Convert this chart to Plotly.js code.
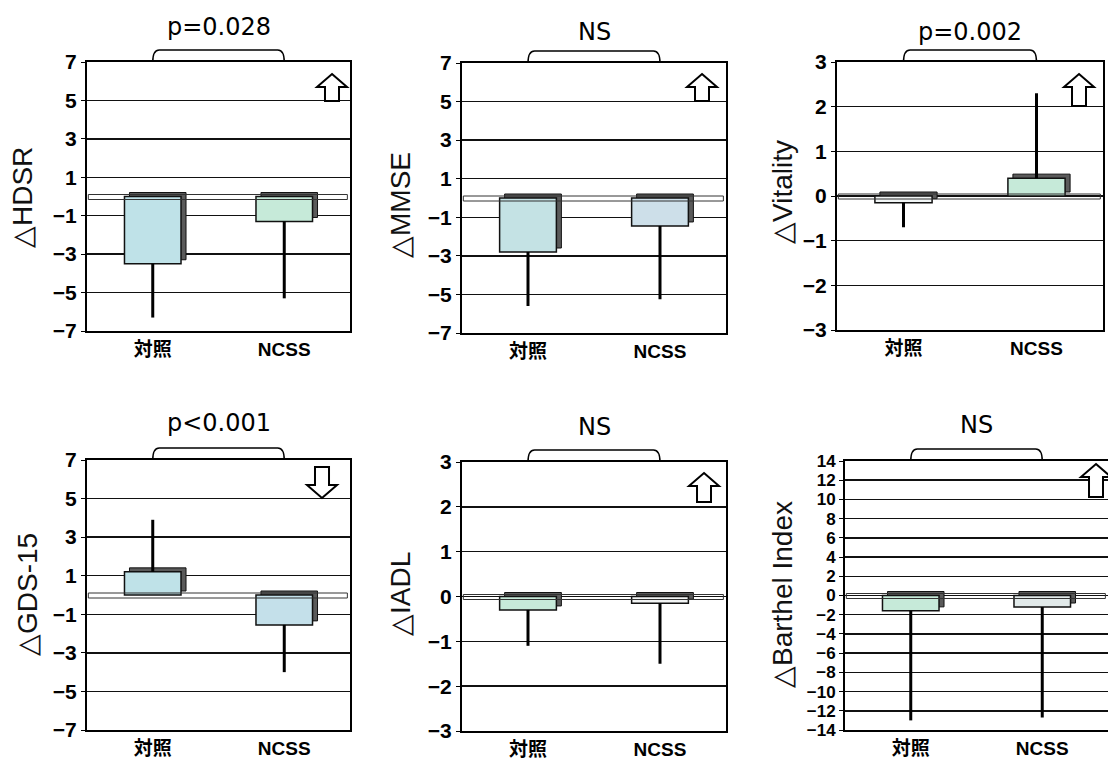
<!DOCTYPE html>
<html>
<head>
<meta charset="utf-8">
<script src="https://cdn.plot.ly/plotly-3.0.1.min.js"></script>
<style>html,body{margin:0;padding:0;background:#fff;overflow:hidden;}#chart{width:1108px;height:760px;}</style>
</head>
<body>
<div id="chart"></div>
<script>
// ---- data ----
const groups = ['対照', 'NCSS'];
const hdsrMean = [-3.5, -1.3];
const hdsrSD = [2.8, 4.0];
const mmseMean = [-2.8, -1.45];
const mmseSD = [2.8, 3.8];
const vitalityMean = [-0.15, 0.4];
const vitalitySD = [0.55, 1.9];
const gdsMean = [1.2, -1.55];
const gdsSD = [2.7, 2.45];
const iadlMean = [-0.3, -0.15];
const iadlSD = [0.8, 1.35];
const barthelMean = [-1.6, -1.2];
const barthelSD = [11.4, 11.5];
const pLabels = ['p=0.028', 'NS', 'p=0.002', 'p<0.001', 'NS', 'NS'];
const yTitles = ['△HDSR', '△MMSE', '△Vitality', '△GDS-15', '△IADL', '△Barthel Index'];
const arrowDirs = ['up', 'up', 'up', 'down', 'up', 'up'];

const panelsData = [
  {mean: hdsrMean, sd: hdsrSD, range: [-7, 7], tick0: -7, dtick: 2},
  {mean: mmseMean, sd: mmseSD, range: [-7, 7], tick0: -7, dtick: 2},
  {mean: vitalityMean, sd: vitalitySD, range: [-3, 3], tick0: -3, dtick: 1},
  {mean: gdsMean, sd: gdsSD, range: [-7, 7], tick0: -7, dtick: 2},
  {mean: iadlMean, sd: iadlSD, range: [-3, 3], tick0: -3, dtick: 1},
  {mean: barthelMean, sd: barthelSD, range: [-14, 14], tick0: -14, dtick: 2}
];

// ---- layout geometry / styling ----
const W = 1108, H = 760;
const boxes = [
  {x0: 87, x1: 350, y0: 62, y1: 331},
  {x0: 462, x1: 726, y0: 63, y1: 333},
  {x0: 837, x1: 1103, y0: 62, y1: 330},
  {x0: 87, x1: 350, y0: 460, y1: 730},
  {x0: 462, x1: 726, y0: 462, y1: 731},
  {x0: 845, x1: 1108, y0: 461, y1: 730}
];
const titlePos = [
  {x: 22, y: 198}, {x: 400, y: 205}, {x: 782, y: 192},
  {x: 27, y: 595}, {x: 400, y: 594}, {x: 782, y: 595}
];
const pPos = [27, 32, 32, 423, 427, 425];
const arrowPos = [
  {cx: 332, top: 74, bottom: 101}, {cx: 702, top: 74, bottom: 101},
  {cx: 1079, top: 74, bottom: 106}, {cx: 322, top: 467, bottom: 498},
  {cx: 704, top: 473, bottom: 502}, {cx: 1096, top: 464, bottom: 497}
];
const panelColors = [
  ['#bfe2e8', '#c6ead9'],
  ['#c4e2e4', '#cddfe9'],
  ['#f2f6f6', '#c6ead9'],
  ['#bfe2e8', '#c4e0ea'],
  ['#c6ead9', '#f2f4f4'],
  ['#c6ead9', '#e2eaea']
];
const yTickSize = [21, 21, 21, 21, 21, 17];
const BAR_W = 0.43, DEPTH_PX = 5;

const traces = [];
const layout = {
  width: W, height: H,
  margin: {l: 0, r: 0, t: 0, b: 0},
  paper_bgcolor: '#fff', plot_bgcolor: '#fff',
  showlegend: false, barmode: 'overlay',
  shapes: [], annotations: []
};

const xIdx = groups.map((g, i) => i);

panelsData.forEach((p, k) => {
  const n = k + 1;
  const xa = 'x' + (n === 1 ? '' : n), ya = 'y' + (n === 1 ? '' : n);
  const xk = 'xaxis' + (n === 1 ? '' : n), yk = 'yaxis' + (n === 1 ? '' : n);
  const b = boxes[k];
  const pw = b.x1 - b.x0, ph = b.y1 - b.y0;
  const xPerPx = 2 / pw;
  const yPerPx = (p.range[1] - p.range[0]) / ph;

  // 3D depth (side / top face) drawn behind the front face
  traces.push({
    type: 'bar', x: xIdx, y: p.mean, xaxis: xa, yaxis: ya,
    base: DEPTH_PX * yPerPx * 0.8,
    width: BAR_W, offset: -BAR_W / 2 + DEPTH_PX * xPerPx,
    marker: {color: '#5a5a5a', line: {color: '#111', width: 1}},
    hoverinfo: 'skip'
  });

  traces.push({
    type: 'bar', x: xIdx, y: p.mean, xaxis: xa, yaxis: ya,
    width: BAR_W, offset: -BAR_W / 2,
    marker: {color: panelColors[k], line: {color: '#111', width: 1.5}},
    error_y: {
      type: 'data', symmetric: false,
      array: p.mean.map((m, i) => m > 0 ? p.sd[i] : 0),
      arrayminus: p.mean.map((m, i) => m < 0 ? p.sd[i] : 0),
      color: '#000', thickness: 3, width: 0
    },
    hoverinfo: 'skip'
  });

  layout[xk] = {
    domain: [b.x0 / W, b.x1 / W], anchor: ya,
    range: [-0.5, 1.5], tickvals: xIdx, ticktext: groups,
    showgrid: false, zeroline: false,
    showline: true, mirror: true, linecolor: '#000', linewidth: 2,
    ticks: '', ticklen: 0,
    tickfont: {family: 'Liberation Sans, Noto Sans CJK JP', size: 19, color: '#000', weight: 'bold'},
    fixedrange: true
  };
  layout[yk] = {
    domain: [1 - b.y1 / H, 1 - b.y0 / H], anchor: xa,
    range: p.range, tick0: p.tick0, dtick: p.dtick, tickmode: 'linear',
    showgrid: true, gridcolor: '#111', gridwidth: 1.5,
    zeroline: false,
    showline: true, mirror: true, linecolor: '#000', linewidth: 2,
    ticks: 'outside', ticklen: 4, tickcolor: '#000',
    tickfont: {family: 'Liberation Sans', size: yTickSize[k], color: '#000', weight: 'bold'},
    fixedrange: true
  };

  // floor slab at zero (two thin lines)
  layout.shapes.push({
    type: 'rect', xref: xa + ' domain', yref: ya,
    x0: 0.005, x1: 0.99, ysizemode: 'pixel', yanchor: 0, y0: -3, y1: 2,
    line: {color: '#333', width: 1}, fillcolor: 'rgba(0,0,0,0)', layer: 'above'
  });

  // significance bracket over the two groups
  const bh = 1 + Math.round(12 / ph * 10000) / 10000, cr = 0.05;
  layout.shapes.push({
    type: 'path', xref: xa, yref: ya + ' domain',
    path: `M ${xIdx[0]},1 Q ${xIdx[0]},${bh} ${xIdx[0] + cr},${bh} L ${xIdx[1] - cr},${bh} Q ${xIdx[1]},${bh} ${xIdx[1]},1`,
    line: {color: '#000', width: 1.5}, layer: 'above'
  });

  layout.annotations.push({
    text: pLabels[k], xref: xa, yref: 'paper',
    x: (xIdx[0] + xIdx[1]) / 2, y: 1 - pPos[k] / H,
    xanchor: 'center', yanchor: 'middle', showarrow: false,
    font: {family: 'DejaVu Sans', size: 24, color: '#000'}
  });

  layout.annotations.push({
    text: yTitles[k], xref: 'paper', yref: 'paper',
    x: titlePos[k].x / W, y: 1 - titlePos[k].y / H,
    xanchor: 'center', yanchor: 'middle', textangle: -90, showarrow: false,
    font: {family: 'Liberation Sans', size: 28, color: '#111'}
  });

  // direction arrow (outline)
  const a = arrowPos[k];
  const hw = 15, sw = 7, hh = 13;
  const fx = px => ((px - b.x0) / pw).toFixed(4);
  const fy = py => ((b.y1 - py) / ph).toFixed(4);
  let pts;
  if (arrowDirs[k] === 'up') {
    pts = [[a.cx, a.top], [a.cx + hw, a.top + hh], [a.cx + sw, a.top + hh], [a.cx + sw, a.bottom],
           [a.cx - sw, a.bottom], [a.cx - sw, a.top + hh], [a.cx - hw, a.top + hh]];
  } else {
    pts = [[a.cx, a.bottom], [a.cx + hw, a.bottom - hh], [a.cx + sw, a.bottom - hh], [a.cx + sw, a.top],
           [a.cx - sw, a.top], [a.cx - sw, a.bottom - hh], [a.cx - hw, a.bottom - hh]];
  }
  const path = pts.map((q, i) => (i === 0 ? 'M ' : 'L ') + fx(q[0]) + ',' + fy(q[1])).join(' ') + ' Z';
  layout.shapes.push({
    type: 'path', xref: xa + ' domain', yref: ya + ' domain', path: path,
    line: {color: '#000', width: 2}, fillcolor: '#fff', layer: 'above'
  });
});

Plotly.newPlot('chart', traces, layout, {displayModeBar: false, staticPlot: true});
</script>
</body>
</html>
